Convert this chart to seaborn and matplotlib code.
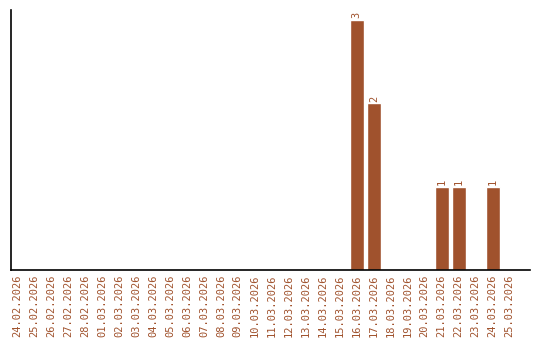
import matplotlib
matplotlib.use("Agg")
import matplotlib.pyplot as plt
import seaborn as sns
import pandas as pd

dates = ["24.02.2026", "25.02.2026", "26.02.2026", "27.02.2026", "28.02.2026",
         "01.03.2026", "02.03.2026", "03.03.2026", "04.03.2026", "05.03.2026",
         "06.03.2026", "07.03.2026", "08.03.2026", "09.03.2026", "10.03.2026",
         "11.03.2026", "12.03.2026", "13.03.2026", "14.03.2026", "15.03.2026",
         "16.03.2026", "17.03.2026", "18.03.2026", "19.03.2026", "20.03.2026",
         "21.03.2026", "22.03.2026", "23.03.2026", "24.03.2026", "25.03.2026"]
counts = [0, 0, 0, 0, 0,
          0, 0, 0, 0, 0,
          0, 0, 0, 0, 0,
          0, 0, 0, 0, 0,
          3, 2, 0, 0, 0,
          1, 1, 0, 1, 0]

color = "#A0522D"

sns.set_style("white")
plt.rcParams['font.family'] = ['DejaVu Sans Mono', 'DejaVu Sans']

df = pd.DataFrame({"date": dates, "count": counts})

fig = plt.figure(figsize=(5.4, 3.4), dpi=100)
ax = fig.add_axes([0.0204, 0.206, 0.9606, 0.765])
sns.barplot(data=df, x="date", y="count", color=color, saturation=1, width=0.82, ax=ax)

for p, v in zip(ax.patches, counts):
    if v > 0:
        ax.text(p.get_x() + p.get_width() / 2, p.get_height() + 0.02, str(v),
                rotation=90, ha="center", va="bottom", fontsize=7.5, color=color)

ax.set_ylim(0, 3.12)
ax.set_xlim(-0.353, 30.18)
ax.set_xlabel("")
ax.set_ylabel("")
ax.set_yticks([])
ax.tick_params(axis="x", length=0, pad=3, labelsize=7.5, labelcolor=color)
plt.setp(ax.get_xticklabels(), rotation=90)
for s in ["top", "right"]:
    ax.spines[s].set_visible(False)
for s in ["left", "bottom"]:
    ax.spines[s].set_color("black")
    ax.spines[s].set_linewidth(1.2)

fig.savefig("out.png", dpi=100)
